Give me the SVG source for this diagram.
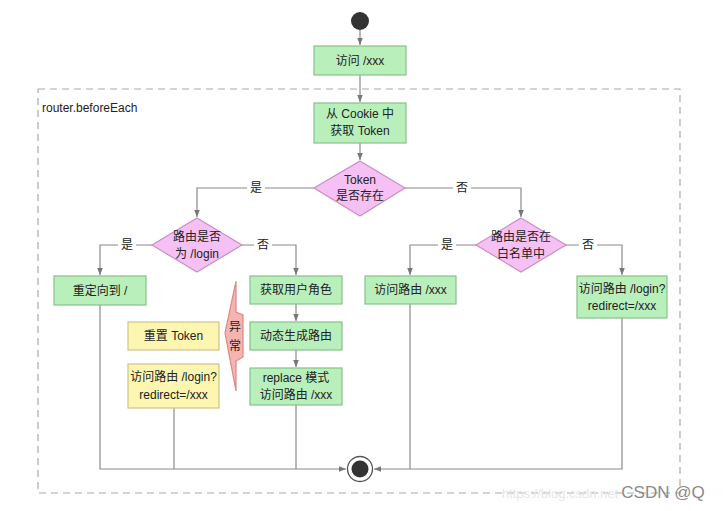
<svg xmlns="http://www.w3.org/2000/svg" width="723" height="511" viewBox="0 0 723 511">
<style>
text{font-family:"Liberation Sans","Noto Sans CJK SC",sans-serif;font-size:12px;fill:#222;text-anchor:middle;dominant-baseline:central}
.g{fill:#b9efbb;stroke:#86c088;stroke-width:1.2}
.y{fill:#fcf6b1;stroke:#cdc487;stroke-width:1.2}
.p{fill:#f5c0f3;stroke:#c98fc6;stroke-width:1.2}
.ln{fill:none;stroke:#8a8a8a;stroke-width:1.2}
.lb{fill:#fff}
</style>
<defs>
<marker id="ah" markerWidth="8" markerHeight="8" refX="7" refY="4" orient="auto" markerUnits="userSpaceOnUse">
<path d="M0,1.2 L7,4 L0,6.8 z" fill="#777"/>
</marker>
</defs>
<rect width="723" height="511" fill="#fff"/>
<g id="container">
<rect x="38" y="89" width="642" height="404" fill="none" stroke="#aaa" stroke-width="1.2" stroke-dasharray="7,5"/>
<text x="42" y="108" style="text-anchor:start">router.beforeEach</text>
</g>
<g id="connectors">
<path class="ln" d="M360,30 V45" marker-end="url(#ah)"/>
<path class="ln" d="M360,75 V102" marker-end="url(#ah)"/>
<path class="ln" d="M360,143 V160" marker-end="url(#ah)"/>
<path class="ln" d="M314,188 H197 V217" marker-end="url(#ah)"/>
<path class="ln" d="M405,188 H521 V217" marker-end="url(#ah)"/>
<path class="ln" d="M152,245 H100 V275" marker-end="url(#ah)"/>
<path class="ln" d="M242,245 H296 V275" marker-end="url(#ah)"/>
<path class="ln" d="M296,304 V321" marker-end="url(#ah)"/>
<path class="ln" d="M296,350 V367" marker-end="url(#ah)"/>
<path class="ln" d="M476,245 H410 V275" marker-end="url(#ah)"/>
<path class="ln" d="M566,245 H622 V275" marker-end="url(#ah)"/>
<path class="ln" d="M100,305 V469 H346" marker-end="url(#ah)"/>
<path class="ln" d="M174,408 V469"/>
<path class="ln" d="M296,405 V469"/>
<path class="ln" d="M622,318 V469 H374" marker-end="url(#ah)"/>
<path class="ln" d="M410,304 V469"/>
<rect class="lb" x="247" y="180" width="18" height="16"/>
<text x="256" y="188">是</text>
<rect class="lb" x="453" y="180" width="18" height="16"/>
<text x="462" y="188">否</text>
<rect class="lb" x="118" y="237" width="18" height="16"/>
<text x="127" y="245">是</text>
<rect class="lb" x="254" y="237" width="18" height="16"/>
<text x="263" y="245">否</text>
<rect class="lb" x="438" y="237" width="18" height="16"/>
<text x="447" y="245">是</text>
<rect class="lb" x="579" y="237" width="18" height="16"/>
<text x="588" y="245">否</text>
</g>
<g id="start"><circle cx="360" cy="21" r="9" fill="#333"/></g>
<g id="visit"><rect class="g" x="314" y="46" width="92" height="29"/><text x="360" y="60.5">访问 /xxx</text></g>
<g id="cookie"><rect class="g" x="314" y="103" width="92" height="40"/><text x="360" y="114">从 Cookie 中</text><text x="360" y="131">获取 Token</text></g>
<g id="tokenExists"><polygon class="p" points="360,161 405,188 360,216 314,188"/><text x="360" y="180">Token</text><text x="360" y="196">是否存在</text></g>
<g id="isLogin"><polygon class="p" points="197,218 242,245 197,272 152,245"/><text x="197" y="237">路由是否</text><text x="197" y="254">为 /login</text></g>
<g id="whitelist"><polygon class="p" points="521,218 566,245 521,272 476,245"/><text x="521" y="237">路由是否在</text><text x="521" y="254">白名单中</text></g>
<g id="redirectRoot"><rect class="g" x="54" y="276" width="92" height="29"/><text x="100" y="290.5">重定向到 /</text></g>
<g id="getRole"><rect class="g" x="250" y="276" width="92" height="28"/><text x="296" y="290">获取用户角色</text></g>
<g id="genRoutes"><rect class="g" x="250" y="322" width="92" height="28"/><text x="296" y="336">动态生成路由</text></g>
<g id="replace"><rect class="g" x="250" y="368" width="92" height="37"/><text x="296" y="378">replace 模式</text><text x="296" y="395">访问路由 /xxx</text></g>
<g id="resetToken"><rect class="y" x="128" y="322" width="91" height="28"/><text x="173.5" y="336">重置 Token</text></g>
<g id="loginYellow"><rect class="y" x="128" y="364" width="91" height="44"/><text x="173.5" y="377">访问路由 /login?</text><text x="173.5" y="395">redirect=/xxx</text></g>
<g id="exception"><polygon points="236,281 236,312 243,315 243,357 236,361 236,391 225,333" fill="#f7b3b0" stroke="#d88a86" stroke-width="1.2"/><text x="235" y="327">异</text><text x="235" y="346">常</text></g>
<g id="visitXxx"><rect class="g" x="365" y="276" width="91" height="28"/><text x="410.5" y="290">访问路由 /xxx</text></g>
<g id="loginRight"><rect class="g" x="577" y="276" width="90" height="42"/><text x="622" y="289">访问路由 /login?</text><text x="622" y="306">redirect=/xxx</text></g>
<g id="end"><circle cx="360" cy="469" r="12.5" fill="#fff" stroke="#555" stroke-width="1.3"/><circle cx="360" cy="469" r="8.5" fill="#333"/></g>
<g id="watermark"><text x="560" y="493" style="font-size:13px;fill:#e6e6e6">https://blog.csdn.net</text><text x="663" y="492" style="font-size:17px;fill:#8a8a8a">CSDN @Q</text></g>
</svg>
